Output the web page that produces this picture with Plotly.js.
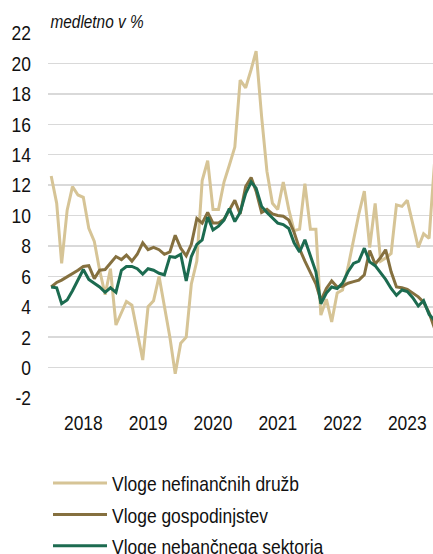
<!DOCTYPE html>
<html>
<head>
<meta charset="utf-8">
<script src="https://cdn.plot.ly/plotly-3.0.1.min.js"></script>
<style>
html,body{margin:0;padding:0;background:#fff;}
#chart{width:433px;height:554px;}
</style>
</head>
<body>
<div id="chart"></div>
<script>
// Monthly data, Jan 2018 onwards (year-on-year growth, %)
const startYear = 2018;
const nefinancneDruzbe = [12.6,10.8,6.85,10.35,11.9,11.35,11.2,9.15,8.3,6.4,4.8,6.5,
  2.8,3.6,4.35,4.1,2.25,0.5,4.0,4.4,6.0,4.0,2.0,-0.4,
  1.6,2.0,5.5,7.0,12.3,13.6,10.4,10.4,12.2,13.3,14.5,18.9,
  18.4,19.6,20.8,16.5,12.9,10.8,10.4,12.2,10.4,9.0,9.1,12.1,
  9.1,9.1,3.45,4.5,3.0,4.9,5.1,6.6,8.4,10.1,11.6,7.9,
  10.8,7.0,7.2,7.5,10.7,10.6,11.0,9.4,7.9,8.8,8.5,13.4];
const gospodinjstva = [5.3,5.6,5.75,5.95,6.15,6.4,6.65,6.7,5.85,6.4,6.45,6.85,
  7.3,7.1,7.4,7.0,7.45,8.2,7.75,7.9,7.75,7.45,7.6,8.7,
  7.85,7.35,8.1,9.8,9.5,10.2,9.5,9.5,9.75,10.35,11.0,10.1,
  11.9,12.5,11.6,10.2,10.4,10.1,10.0,9.95,9.7,8.9,7.8,7.0,
  6.3,5.5,4.4,5.2,5.7,5.3,5.35,5.55,5.65,5.75,6.1,7.7,
  6.8,7.25,7.75,6.3,5.3,5.25,5.15,4.9,4.65,4.3,3.6,2.6];
const nebancniSektor = [5.3,5.25,4.2,4.45,5.05,5.75,6.45,5.8,5.55,5.3,4.95,5.25,
  4.95,6.4,6.65,6.65,6.5,6.15,6.5,6.4,6.2,6.1,7.3,7.25,
  7.45,5.7,7.3,8.1,8.4,9.9,9.05,9.3,9.7,10.45,9.6,10.2,
  11.45,12.2,11.8,10.6,10.2,9.85,9.5,9.4,9.15,8.2,7.6,8.4,
  7.3,6.3,4.2,4.9,5.3,5.2,5.55,6.3,6.85,7.0,7.85,6.95,
  6.7,6.2,5.8,5.2,4.75,5.1,5.0,4.6,4.05,4.4,3.5,3.1];
const seriesNames = ['Vloge nefinančnih družb','Vloge gospodinjstev','Vloge nebančnega sektorja'];
const seriesColors = ['#d6c496','#85703f','#1c6b50'];
const yearLabels = ['2018','2019','2020','2021','2022','2023'];
const yTicks = [-2,0,2,4,6,8,10,12,14,16,18,20,22];
const yTickText = ['-2','0','2','4','6','8','10','12','14','16','18','20','22'];

const months = nefinancneDruzbe.map((_, i) => {
  const y = startYear + Math.floor(i / 12);
  const m = (i % 12) + 1;
  return y + '-' + String(m).padStart(2, '0') + '-01';
});
const yearMid = yearLabels.map(y => y + '-07-01');

const FONT = '"Liberation Sans", Arial, sans-serif';
const NARROW = 0.83; // reference uses a narrow typeface

const traces = [nefinancneDruzbe, gospodinjstva, nebancniSektor].map((vals, k) => ({
  type: 'scatter', mode: 'lines', x: months, y: vals, name: seriesNames[k],
  legendgroup: 'g' + k,
  line: {color: seriesColors[k], width: 3}
}));

const layout = {
  width: 433, height: 554,
  margin: {l: 48, r: 0, t: 33, b: 156, autoexpand: false},
  paper_bgcolor: '#fff', plot_bgcolor: '#fff',
  font: {family: FONT, size: 21, color: '#111'},
  showlegend: true,
  legend: {
    orientation: 'v',
    x: 0, xanchor: 'left', y: -0.178, yanchor: 'top',
    font: {family: FONT, size: 21, color: '#111'},
    itemwidth: 54, tracegroupgap: 1, bgcolor: 'rgba(0,0,0,0)'
  },
  xaxis: {
    type: 'date', range: ['2017-12-14', '2023-11-23'],
    tickmode: 'array', tickvals: yearMid, ticktext: yearLabels, tickangle: 0,
    showgrid: false, zeroline: false, showline: false, ticks: '',
    ticklabelstandoff: 10,
    tickfont: {family: FONT, size: 21, color: '#111'}
  },
  yaxis: {
    range: [-2, 22], tickmode: 'array', tickvals: yTicks, ticktext: yTickText,
    showgrid: true, gridcolor: '#d9d9d9', gridwidth: 1.5,
    zeroline: false, showline: false, ticks: '',
    ticklabelstandoff: 16,
    tickfont: {family: FONT, size: 21, color: '#111'}
  },
  annotations: [{
    text: 'medletno v %', xref: 'paper', yref: 'paper', x: 0, y: 1,
    xanchor: 'left', yanchor: 'bottom', showarrow: false, xshift: -9, yshift: -1,
    font: {family: FONT, size: 18.5, color: '#111', style: 'italic'}
  }]
};

Plotly.newPlot('chart', traces, layout, {displayModeBar: false, staticPlot: true}).then(gd => {
  gd.querySelectorAll('svg text').forEach(t => {
    if (!t.textContent || !t.textContent.trim()) return;
    const w = t.getComputedTextLength();
    if (w > 0) {
      t.setAttribute('textLength', (w * NARROW).toFixed(2));
      t.setAttribute('lengthAdjust', 'spacingAndGlyphs');
    }
  });
});
</script>
</body>
</html>
